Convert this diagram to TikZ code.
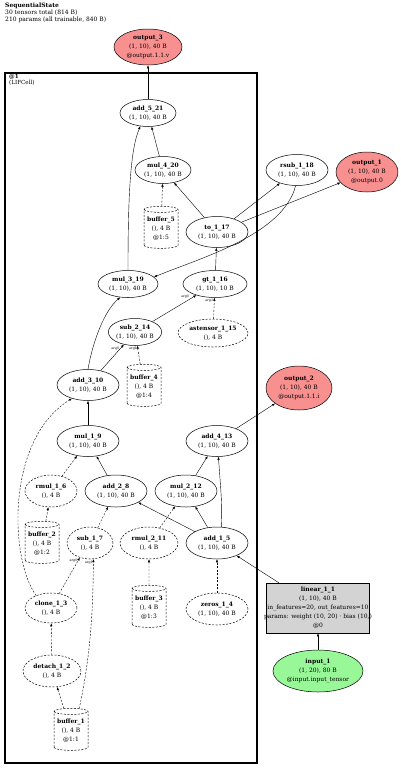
\documentclass[tikz,border=0pt]{standalone}
\usepackage{fontspec}
\setmainfont{DejaVu Serif}
\usetikzlibrary{shapes.geometric,arrows.meta}
\definecolor{outred}{HTML}{F89090}
\definecolor{ingreen}{HTML}{98F898}
\definecolor{lingray}{HTML}{D3D3D3}
\begin{document}
\begin{tikzpicture}[x=1pt,y=-1pt,
  every node/.style={font=\fontsize{6}{9}\selectfont, align=center, inner sep=0pt},
  op/.style={ellipse, draw, line width=0.5pt},
  opd/.style={op, dash pattern=on 2pt off 1.5pt},
  outn/.style={ellipse, draw, line width=0.5pt, fill=outred},
  buf/.style={cylinder, shape border rotate=90, aspect=0.22, draw, line width=0.5pt, dash pattern=on 2pt off 1.5pt, minimum width=34pt, minimum height=42pt},
  e/.style={-{Latex[length=3pt,width=2.4pt]}, line width=0.4pt},
  ed/.style={e, dash pattern=on 2pt off 1.5pt},
  lab/.style={font=\fontsize{3.3}{3.3}\selectfont},
]
\useasboundingbox (0,0) rectangle (400,769);
% title
\node[anchor=north west, align=left, font=\fontsize{6}{6.7}\selectfont] (title) at (5,3)
  {\textbf{SequentialState}\\30 tensors total (814 B)\\210 params (all trainable, 840 B)};
% cluster
\draw[line width=2.5pt] (5,73) rectangle (257,763);
\node[anchor=north west, align=left, font=\fontsize{5.6}{6.6}\selectfont] (clab) at (9,74) {\textbf{@1}\\(LIFCell)};

% nodes
\node[outn, minimum width=68pt, minimum height=36pt] (output_3) at (148,47) {\textbf{output\_3}\\(1, 10), 40 B\\@output.1.1.v};
\node[op, minimum width=56pt, minimum height=27pt] (add_5_21) at (148,113) {\textbf{add\_5\_21}\\(1, 10), 40 B};
\node[op, minimum width=56pt, minimum height=27pt] (mul_4_20) at (163,170) {\textbf{mul\_4\_20}\\(1, 10), 40 B};
\node[buf] (buffer_5) at (161,229) {\textbf{buffer\_5}\\(), 4 B\\@1:5};
\node[op, minimum width=62pt, minimum height=31pt] (to_1_17) at (217,232) {\textbf{to\_1\_17}\\(1, 10), 40 B};
\node[op, minimum width=62pt, minimum height=31pt] (rsub_1_18) at (297,170) {\textbf{rsub\_1\_18}\\(1, 10), 40 B};
\node[outn, minimum width=62pt, minimum height=40pt] (output_1) at (367,172) {\textbf{output\_1}\\(1, 10), 40 B\\@output.0};
\node[op, minimum width=60pt, minimum height=27pt] (mul_3_19) at (128,284) {\textbf{mul\_3\_19}\\(1, 10), 40 B};
\node[op, minimum width=64pt, minimum height=27pt] (gt_1_16) at (215,284) {\textbf{gt\_1\_16}\\(1, 10), 10 B};
\node[op, minimum width=52pt, minimum height=27pt] (sub_2_14) at (135,332) {\textbf{sub\_2\_14}\\(1, 10), 40 B};
\node[opd, minimum width=70pt, minimum height=28pt] (astensor_1_15) at (213,333) {\textbf{astensor\_1\_15}\\(), 4 B};
\node[buf] (buffer_4) at (144,387) {\textbf{buffer\_4}\\(), 4 B\\@1:4};
\node[op, minimum width=62pt, minimum height=31pt] (add_3_10) at (88,385) {\textbf{add\_3\_10}\\(1, 10), 40 B};
\node[outn, minimum width=66pt, minimum height=44pt] (output_2) at (299,388) {\textbf{output\_2}\\(1, 10), 40 B\\@output.1.1.i};
\node[op, minimum width=62pt, minimum height=31pt] (mul_1_9) at (88,441) {\textbf{mul\_1\_9}\\(1, 10), 40 B};
\node[op, minimum width=62pt, minimum height=31pt] (add_4_13) at (217,441) {\textbf{add\_4\_13}\\(1, 10), 40 B};
\node[opd, minimum width=52pt, minimum height=32pt] (rmul_1_6) at (51,491) {\textbf{rmul\_1\_6}\\(), 4 B};
\node[op, minimum width=62pt, minimum height=32pt] (add_2_8) at (116,491) {\textbf{add\_2\_8}\\(1, 10), 40 B};
\node[op, minimum width=62pt, minimum height=32pt] (mul_2_12) at (186,491) {\textbf{mul\_2\_12}\\(1, 10), 40 B};
\node[buf] (buffer_2) at (42,544) {\textbf{buffer\_2}\\(), 4 B\\@1:2};
\node[opd, minimum width=46pt, minimum height=32pt] (sub_1_7) at (90,543) {\textbf{sub\_1\_7}\\(), 4 B};
\node[opd, minimum width=58pt, minimum height=32pt] (rmul_2_11) at (149,543) {\textbf{rmul\_2\_11}\\(), 4 B};
\node[op, minimum width=62pt, minimum height=32pt] (add_1_5) at (217,543) {\textbf{add\_1\_5}\\(1, 10), 40 B};
\node[draw, fill=lingray, line width=0.5pt, minimum width=103pt, minimum height=50pt] (linear_1_1) at (318,608)
  {\textbf{linear\_1\_1}\\(1, 10), 40 B\\\makebox[95pt]{in\_features=20, out\_features=10}\\\makebox[95pt]{params: weight (10, 20) · bias (10,)}\\@0};
\node[opd, minimum width=52pt, minimum height=30pt] (clone_1_3) at (51,608) {\textbf{clone\_1\_3}\\(), 4 B};
\node[buf] (buffer_3) at (149,608) {\textbf{buffer\_3}\\(), 4 B\\@1:3};
\node[opd, minimum width=62pt, minimum height=32pt] (zeros_1_4) at (217,609) {\textbf{zeros\_1\_4}\\(1, 10), 40 B};
\node[opd, minimum width=58pt, minimum height=32pt] (detach_1_2) at (52,671) {\textbf{detach\_1\_2}\\(), 4 B};
\node[ellipse, draw, line width=0.5pt, fill=ingreen, minimum width=90pt, minimum height=42pt] (input_1) at (318,671) {\textbf{input\_1}\\(1, 20), 80 B\\@input.input\_tensor};
\node[buf] (buffer_1) at (71,731) {\textbf{buffer\_1}\\(), 4 B\\@1:1};

% edges
\draw[e] (add_5_21) -- (output_3);
\draw[e] (mul_4_20) -- (add_5_21);
\draw[e] (mul_3_19.north) .. controls (128,200) and (130,150) .. (add_5_21.240);
\draw[ed] (buffer_5) -- (mul_4_20);
\draw[e] (to_1_17) -- (mul_4_20);
\draw[e] (to_1_17) -- (rsub_1_18);
\draw[e] (to_1_17) -- (output_1);
\draw[e] (rsub_1_18.265) .. controls (283,235) and (200,258) .. (mul_3_19.15);
\draw[e] (gt_1_16) -- (to_1_17);
\draw[e] (sub_2_14) -- (gt_1_16) node[lab, pos=0.85, above left=0.5pt] (l1) {arg0};
\draw[ed] (astensor_1_15) -- (gt_1_16) node[lab, pos=0.85, left=1pt] (l2) {arg1};
\draw[e] (add_3_10.north) .. controls (93,340) and (105,310) .. (mul_3_19.240);
\draw[e] (add_3_10) -- (sub_2_14) node[lab, pos=0.85, left=1pt] (l3) {arg0};
\draw[ed] (buffer_4) -- (sub_2_14) node[lab, pos=0.85, left=0.5pt] (l4) {arg1};
\draw[e] (mul_1_9) -- (add_3_10);
\draw[ed] (clone_1_3.140) .. controls (10,560) and (5,440) .. (add_3_10.220);
\draw[ed] (rmul_1_6) -- (mul_1_9);
\draw[e] (add_2_8) -- (mul_1_9);
\draw[e] (add_4_13) -- (output_2);
\draw[e] (mul_2_12) -- (add_4_13);
\draw[e] (add_1_5.75) .. controls (222,505) .. (add_4_13.275);
\draw[ed] (buffer_2) -- (rmul_1_6);
\draw[ed] (sub_1_7) -- (add_2_8);
\draw[e] (add_1_5) -- (add_2_8);
\draw[ed] (rmul_2_11) -- (mul_2_12);
\draw[e] (add_1_5) -- (mul_2_12);
\draw[ed] (zeros_1_4) -- (add_1_5);
\draw[e] (linear_1_1) -- (add_1_5);
\draw[ed] (clone_1_3) -- (sub_1_7.235) node[lab, pos=0.92, left=0.5pt] (l5) {arg0};
\draw[ed] (buffer_1.70) .. controls (92,650) and (93,600) .. (sub_1_7.282) node[lab, pos=0.97, left=0.3pt] (l6) {arg1};
\draw[ed] (buffer_3) -- (rmul_2_11);
\draw[ed] (detach_1_2) -- (clone_1_3);
\draw[ed] (buffer_1) -- (detach_1_2);
\draw[e] (input_1) -- (linear_1_1);
\end{tikzpicture}
\end{document}
